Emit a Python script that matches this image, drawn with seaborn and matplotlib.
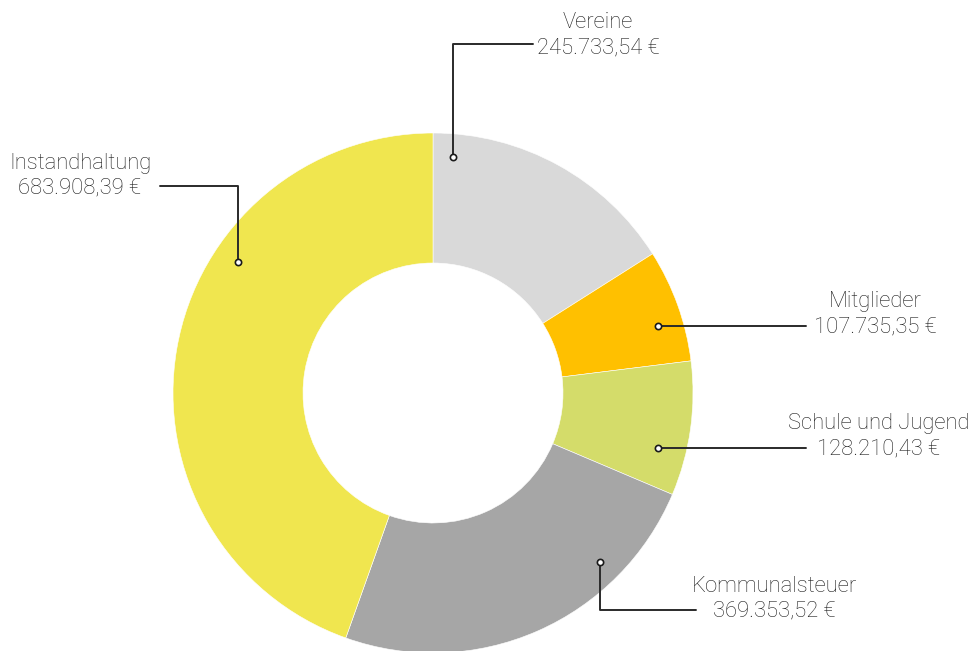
import matplotlib
matplotlib.use("Agg")
import matplotlib.pyplot as plt
import seaborn as sns

# data
categories = ["Vereine", "Mitglieder", "Schule und Jugend", "Kommunalsteuer", "Instandhaltung"]
values = [245733.54, 107735.35, 128210.43, 369353.52, 683908.39]
colors = ["#d9d9d9", "#ffc000", "#d4dc6a", "#a6a6a6", "#f0e64f"]

def euro(v):
    s = f"{v:,.2f}".replace(",", "X").replace(".", ",").replace("X", ".")
    return s + " €"

sns.set_theme(style="white")
plt.rcParams['font.family'] = ['Roboto', 'DejaVu Sans']

fig = plt.figure(figsize=(9.73, 6.51), dpi=100)
ax = fig.add_axes([0, 0, 1, 1])

# donut drawn in pixel space (y down, so counterclock=True gives clockwise on screen)
ax.pie(values, colors=colors, center=(433, 393), radius=260, startangle=-90,
       counterclock=True, wedgeprops=dict(width=130, edgecolor="white", linewidth=0.4),
       frame=True)
ax.set_xlim(0, 973)
ax.set_ylim(651, 0)
ax.axis("off")

# leader lines: (dot + elbow path, text center)
leaders = [
    ([(453, 157), (453, 44), (533, 44)], (598, 23)),
    ([(658, 326), (806, 326)], (875, 302)),
    ([(658, 448), (806, 448)], (879, 424)),
    ([(600, 562), (600, 610), (696, 610)], (774, 586)),
    ([(238, 262), (238, 186), (160, 186)], (80, 163)),
]

for (pts, txt), cat, val in zip(leaders, categories, values):
    xs = [p[0] for p in pts]
    ys = [p[1] for p in pts]
    ax.plot(xs, ys, color="#2a2a2a", lw=1.4, zorder=3)
    ax.plot(xs[0], ys[0], "o", ms=4.5, mfc="white", mec="#1a1a1a", mew=1.2, zorder=4)
    ax.text(txt[0], txt[1], cat, ha="center", va="center", fontsize=15.8,
            fontweight="light", color="#1e1e1e")
    ax.text(txt[0], txt[1] + 25, euro(val), ha="center", va="center", fontsize=15.8,
            fontweight="light", color="#1e1e1e")

fig.savefig("out.png", dpi=100, facecolor="white")
